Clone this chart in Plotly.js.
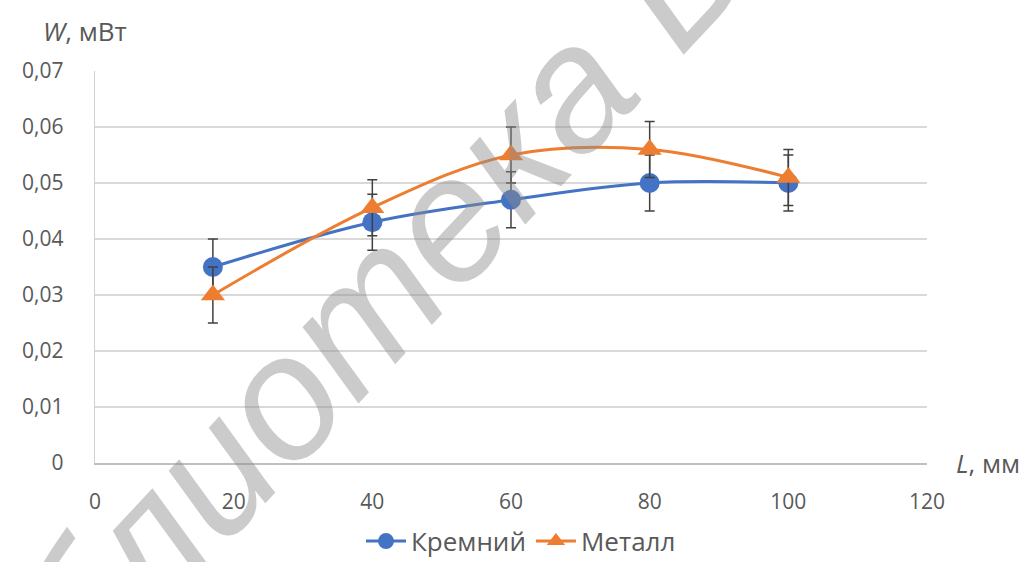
<!DOCTYPE html>
<html>
<head>
<meta charset="utf-8">
<script src="https://cdn.plot.ly/plotly-3.0.1.min.js"></script>
<style>
html,body{margin:0;padding:0;background:#fff;}
#chart{width:1026px;height:562px;}
</style>
</head>
<body>
<div id="chart"></div>
<script>
var xValues = [17, 40, 60, 80, 100];
var siliconW = [0.035, 0.043, 0.047, 0.050, 0.050];
var metalW = [0.030, 0.0456, 0.055, 0.056, 0.051];
var siliconErr = [0.005, 0.005, 0.005, 0.005, 0.005];
var metalErr = [0.005, 0.005, 0.005, 0.005, 0.005];
var yTickVals = [0, 0.01, 0.02, 0.03, 0.04, 0.05, 0.06, 0.07];
var yTickText = ['0', '0,01', '0,02', '0,03', '0,04', '0,05', '0,06', '0,07'];
var xTickVals = [0, 20, 40, 60, 80, 100, 120];
var seriesNames = ['Кремний', 'Металл'];
var watermarkText = 'библиотека БГУИР';

var font = 'Open Sans, Noto Sans, sans-serif';
var textColor = '#595959';

var traces = [
  {
    x: xValues, y: siliconW, name: seriesNames[0], type: 'scatter', mode: 'lines+markers',
    line: {color: '#4472C4', width: 3, shape: 'spline', smoothing: 1},
    marker: {symbol: 'circle', size: 20, color: '#4472C4'},
    error_y: {type: 'data', array: siliconErr, visible: true, color: '#404040', thickness: 1.5, width: 5}
  },
  {
    x: xValues, y: metalW, name: seriesNames[1], type: 'scatter', mode: 'lines+markers',
    line: {color: '#ED7D31', width: 3, shape: 'spline', smoothing: 1},
    marker: {symbol: 'triangle-up', size: 21, color: '#ED7D31'},
    error_y: {type: 'data', array: metalErr, visible: true, color: '#404040', thickness: 1.5, width: 5}
  }
];

var layout = {
  width: 1026, height: 562,
  paper_bgcolor: '#fff', plot_bgcolor: '#fff',
  margin: {l: 95, r: 99, t: 71, b: 99},
  font: {family: font, size: 20, color: textColor},
  showlegend: true,
  legend: {orientation: 'h', x: 0.512, xanchor: 'center', yref: 'container', y: 0.037, yanchor: 'middle',
           font: {family: font, size: 26, color: textColor}, itemwidth: 40, tracegroupgap: 0},
  xaxis: {
    range: [0, 120], tickvals: xTickVals, ticktext: xTickVals.map(String),
    showgrid: false, zeroline: false, showline: true, linecolor: '#bfbfbf', linewidth: 1.5,
    ticks: 'outside', ticklen: 19, tickcolor: 'rgba(0,0,0,0)',
    tickfont: {family: font, size: 21, color: textColor}, fixedrange: true
  },
  yaxis: {
    range: [0, 0.07], tickvals: yTickVals, ticktext: yTickText,
    showgrid: true, gridcolor: '#d9d9d9', gridwidth: 1.3, zeroline: false,
    showline: true, linecolor: '#d0d0d0', linewidth: 1.3,
    ticks: 'outside', ticklen: 26, tickcolor: 'rgba(0,0,0,0)',
    tickfont: {family: font, size: 21, color: textColor}, fixedrange: true
  },
  annotations: [
    {xref: 'paper', yref: 'paper', x: -0.065, y: 1.05, xanchor: 'left', yanchor: 'bottom', showarrow: false,
     text: '<i>W</i>, мВт', font: {family: font, size: 26, color: textColor}},
    {xref: 'paper', yref: 'paper', x: 1.033, y: 0, xanchor: 'left', yanchor: 'middle', showarrow: false,
     text: '<i>L</i>, мм', font: {family: font, size: 26, color: textColor}},
    {xref: 'paper', yref: 'paper', x: 0.447, y: 0.675, xanchor: 'center', yanchor: 'middle', showarrow: false,
     textangle: -47, text: '<i>' + watermarkText + '</i>',
     font: {family: 'Liberation Sans, Arial, sans-serif', size: 176, color: 'rgba(140,140,140,0.45)'}}
  ]
};

Plotly.newPlot('chart', traces, layout, {staticPlot: true, displayModeBar: false});
</script>
</body>
</html>
